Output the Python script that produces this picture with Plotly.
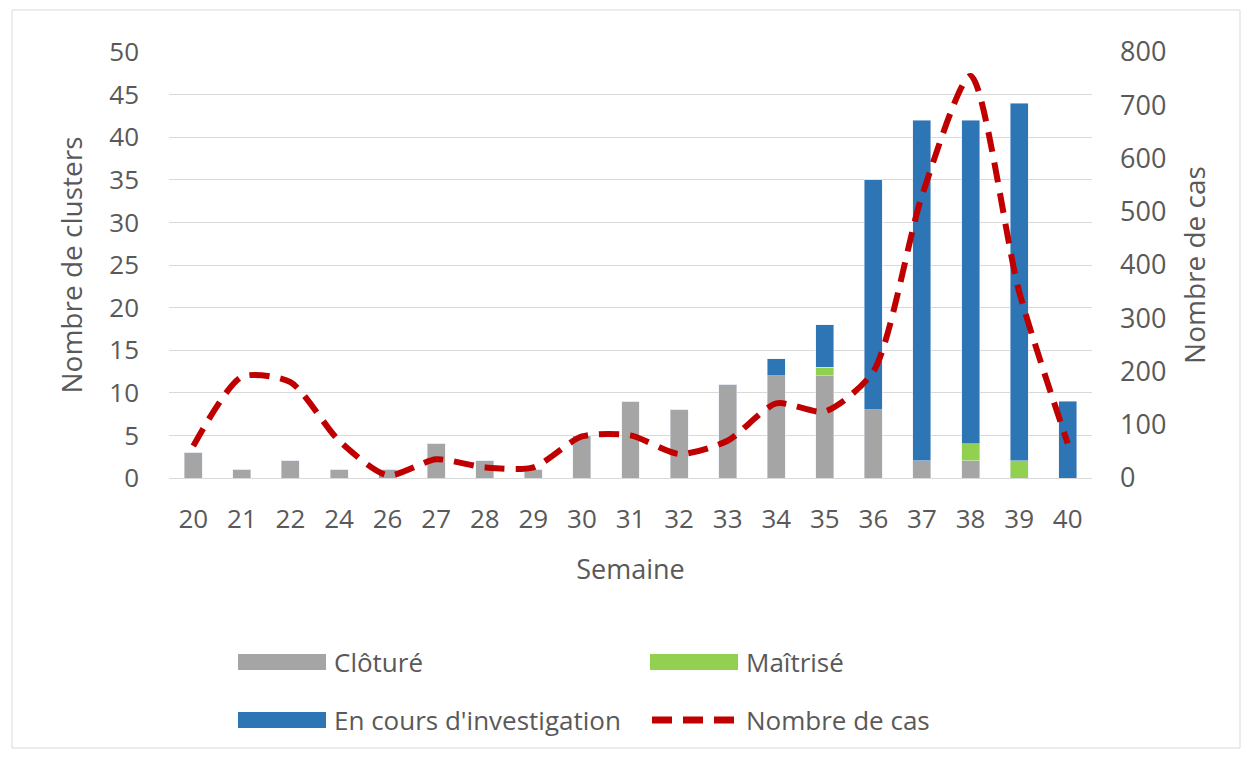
import plotly.graph_objects as go

# semaines et valeurs
semaines = ["20", "21", "22", "24", "26", "27", "28", "29", "30", "31",
            "32", "33", "34", "35", "36", "37", "38", "39", "40"]
cloture = [3, 1, 2, 1, 1, 4, 2, 1, 5, 9, 8, 11, 12, 12, 8, 2, 2, 0, 0]
maitrise = [0, 0, 0, 0, 0, 0, 0, 0, 0, 0, 0, 0, 0, 1, 0, 0, 2, 2, 0]
en_cours = [0, 0, 0, 0, 0, 0, 0, 0, 0, 0, 0, 0, 2, 5, 27, 40, 38, 42, 9]
nb_cas = [60, 190, 180, 70, 5, 35, 20, 20, 78, 80, 45, 70, 140, 125, 200, 530, 755, 350, 65]

GRIS = "#A5A5A5"
VERT = "#92D050"
BLEU = "#2E75B6"
ROUGE = "#C00000"
TXT = "#595959"
FONT = "Open Sans"

fig = go.Figure()
fig.add_trace(go.Bar(x=semaines, y=cloture, name="Clôturé", marker_color=GRIS))
fig.add_trace(go.Bar(x=semaines, y=maitrise, name="Maîtrisé", marker_color=VERT))
fig.add_trace(go.Bar(x=semaines, y=en_cours, name="En cours d'investigation", marker_color=BLEU))
fig.add_trace(go.Scatter(x=semaines, y=nb_cas, name="Nombre de cas", yaxis="y2",
                         mode="lines", line=dict(color=ROUGE, width=6, dash="20px,11px",
                                                 shape="spline", smoothing=0.7)))

# la page a une marge de 8 px : on décale la zone de tracé
fig.update_layout(
    width=1250, height=758,
    barmode="stack", bargap=0.63,
    showlegend=False,
    plot_bgcolor="white", paper_bgcolor="white",
    margin=dict(l=161, r=166, t=44, b=288),
    font=dict(family=FONT, size=26, color=TXT),
    xaxis=dict(type="category", showgrid=False, showline=True, linecolor="#d9d9d9", linewidth=1,
               ticks="", title=dict(text="Semaine", font=dict(size=27), standoff=24),
               tickfont=dict(size=26), ticklabelstandoff=18),
    yaxis=dict(range=[0, 50], dtick=5, gridcolor="#d9d9d9", zeroline=False, ticks="",
               title=dict(text="Nombre de clusters", font=dict(size=28), standoff=18),
               tickfont=dict(size=26), ticklabelstandoff=29),
    yaxis2=dict(range=[0, 800], dtick=100, overlaying="y", side="right", showgrid=False,
                zeroline=False, ticks="",
                title=dict(text="Nombre de cas", font=dict(size=28), standoff=20),
                tickfont=dict(size=27), ticklabelstandoff=27),
)

# légende dessinée à la main (symboles larges comme dans l'original)
W, H = 923, 426
def px_x(x):
    return (x - 169) / W

def px_y(y):
    return (478 - y) / H

legende = [("Clôturé", GRIS, 238, 662, "bar"), ("Maîtrisé", VERT, 650, 662, "bar"),
           ("En cours d'investigation", BLEU, 238, 720, "bar"), ("Nombre de cas", ROUGE, 650, 720, "line")]
for nom, coul, x0, yc, kind in legende:
    if kind == "bar":
        fig.add_shape(type="rect", xref="paper", yref="paper",
                      x0=px_x(x0), x1=px_x(x0 + 88), y0=px_y(yc - 8), y1=px_y(yc + 8),
                      fillcolor=coul, line_width=0)
    else:
        fig.add_shape(type="line", xref="paper", yref="paper",
                      x0=px_x(x0 + 2), x1=px_x(x0 + 88), y0=px_y(yc), y1=px_y(yc),
                      line=dict(color=coul, width=7, dash="20px,11px"))
    fig.add_annotation(text=nom, xref="paper", yref="paper", x=px_x(x0 + 94), y=px_y(yc),
                       xanchor="left", yanchor="middle", showarrow=False,
                       font=dict(size=26, color=TXT))

# cadre autour du graphique
fig.add_shape(type="rect", xref="paper", yref="paper",
              x0=px_x(12), x1=px_x(1240), y0=px_y(748), y1=px_y(10),
              line=dict(color="#d9d9d9", width=1), fillcolor="rgba(0,0,0,0)")

fig.write_html("out.html")
